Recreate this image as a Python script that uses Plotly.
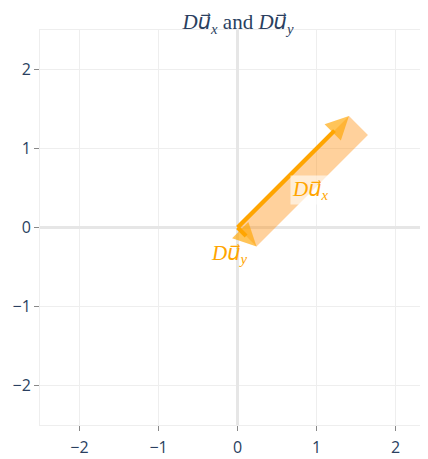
import plotly.graph_objects as go

# vectors
du_x = [1.41, 1.41]
du_y = [0.24, -0.24]
x_ticks = [-2, -1, 0, 1, 2]
y_ticks = [-2, -1, 0, 1, 2]
label_x_pos = [0.92, 0.48]
label_y_pos = [-0.11, -0.34]

ORANGE = "orange"

def vec(sub):
    return ('<i>D</i><span style="font-family:\'DejaVu Sans\'"><i>u⃗</i></span>'
            '<sub><i>' + sub + '</i></sub>')

fig = go.Figure()

# parallelogram spanned by the two vectors
px = [0, du_x[0], du_x[0] + du_y[0], du_y[0], 0]
py = [0, du_x[1], du_x[1] + du_y[1], du_y[1], 0]
fig.add_trace(go.Scatter(x=px, y=py, mode="lines", fill="toself",
                         fillcolor="rgba(255,145,20,0.42)", line=dict(width=0),
                         hoverinfo="skip", showlegend=False))

HEAD = 0.13
for v, head in ((du_x, HEAD), (du_y, 0.55)):
    fig.add_trace(go.Scatter(x=[0, v[0] * (1 - head)], y=[0, v[1] * (1 - head)],
                             mode="lines", line=dict(color=ORANGE, width=4),
                             hoverinfo="skip", showlegend=False))
    fig.add_annotation(x=v[0], y=v[1], ax=0, ay=0, xref="x", yref="y",
                       axref="x", ayref="y", showarrow=True, arrowhead=2,
                       arrowsize=1.15, arrowwidth=4, arrowcolor=ORANGE,
                       opacity=0.65, text="")

fig.add_annotation(x=label_x_pos[0], y=label_x_pos[1], xref="x", yref="y",
                   text=vec("x"), showarrow=False,
                   font=dict(family="Liberation Serif", size=21, color=ORANGE),
                   bgcolor="rgba(255,255,255,0.6)")
fig.add_annotation(x=label_y_pos[0], y=label_y_pos[1], xref="x", yref="y",
                   text=vec("y"), showarrow=False,
                   font=dict(family="Liberation Serif", size=21, color=ORANGE))

axis_common = dict(showgrid=True, gridcolor="#eeeeee", gridwidth=1,
                   zeroline=True, zerolinecolor="#e6e6e6", zerolinewidth=3,
                   showline=True, linecolor="#eeeeee", linewidth=1, mirror=True,
                   ticks="outside", ticklen=5, tickcolor="#888888", tickwidth=1,
                   automargin=False,
                   tickfont=dict(family="Open Sans", size=16, color="#2a3f5f"))

fig.update_xaxes(range=[-2.5, 2.41], tickvals=x_ticks, ticklabelstandoff=3,
                 **axis_common)
fig.update_yaxes(range=[-2.5, 2.5], tickvals=y_ticks, **axis_common)

fig.update_layout(
    width=420, height=451,
    margin=dict(l=32, r=0, t=22, b=34, autoexpand=False),
    plot_bgcolor="white", paper_bgcolor="white",
    title=dict(text=vec("x") + " and " + vec("y"),
               x=230 / 420, xanchor="center", y=0.985, yanchor="top",
               font=dict(family="Liberation Serif", size=21, color="#2a3f5f")),
)

fig.write_html("out.html")
